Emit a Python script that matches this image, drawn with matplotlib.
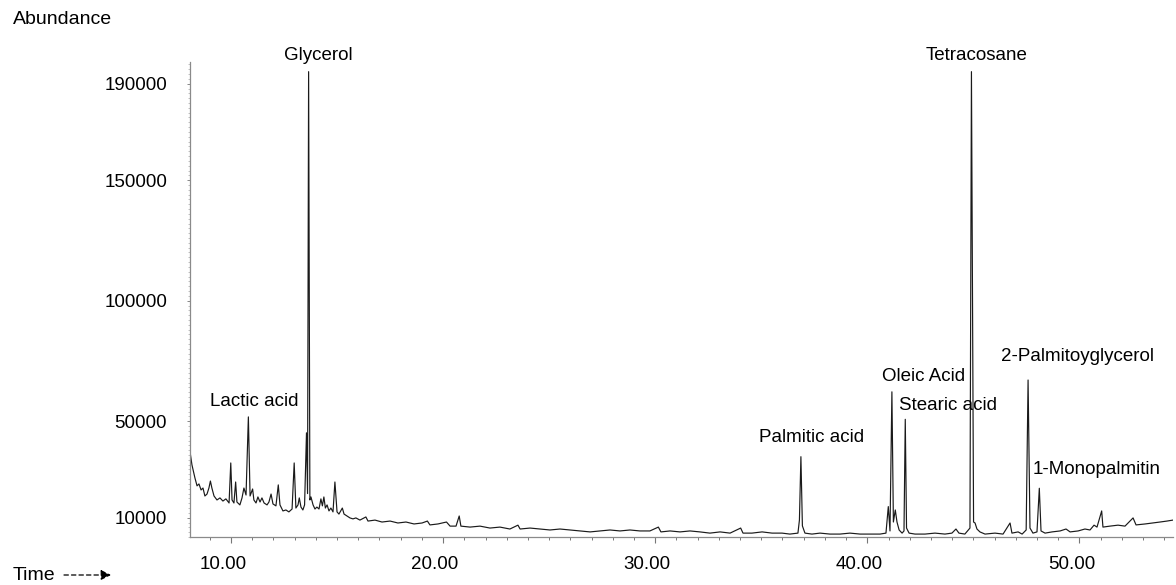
import matplotlib
matplotlib.use('Agg')
import matplotlib.pyplot as plt
from matplotlib.ticker import FixedLocator, MultipleLocator
from matplotlib.transforms import ScaledTranslation

plt.rcParams['font.family'] = ['Liberation Sans', 'DejaVu Sans']

# retention time (min) and abundance
time = [8.07, 8.16, 8.30, 8.40, 8.49, 8.59, 8.68, 8.77, 8.87, 8.96,
        9.03, 9.10, 9.20, 9.34, 9.48, 9.62, 9.76, 9.91, 9.99, 10.05,
        10.14, 10.22, 10.28, 10.42, 10.52, 10.61, 10.71, 10.82, 10.90, 11.02,
        11.08, 11.18, 11.27, 11.37, 11.46, 11.56, 11.70, 11.79, 11.89, 11.98,
        12.12, 12.23, 12.31, 12.45, 12.59, 12.73, 12.88, 12.98, 13.06, 13.16,
        13.22, 13.30, 13.39, 13.47, 13.56, 13.61, 13.66, 13.72, 13.77, 13.87,
        13.96, 14.05, 14.15, 14.24, 14.31, 14.38, 14.45, 14.53, 14.62, 14.71,
        14.81, 14.90, 15.00, 15.09, 15.25, 15.33, 15.47, 15.61, 15.75, 15.89,
        16.08, 16.36, 16.46, 16.79, 17.12, 17.50, 17.87, 18.25, 18.63, 19.01,
        19.26, 19.38, 19.76, 20.16, 20.33, 20.61, 20.76, 20.84, 21.27, 21.74,
        22.21, 22.68, 23.15, 23.53, 23.63, 24.10, 24.57, 25.04, 25.51, 25.98,
        26.45, 26.93, 27.40, 27.87, 28.34, 28.81, 29.28, 29.75, 30.15, 30.27,
        30.70, 31.17, 31.64, 32.11, 32.58, 33.06, 33.53, 34.03, 34.14, 34.56,
        35.04, 35.51, 35.98, 36.35, 36.73, 36.80, 36.87, 36.94, 37.06, 37.39,
        37.77, 38.24, 38.71, 39.18, 39.66, 40.13, 40.60, 40.88, 40.99, 41.07,
        41.16, 41.23, 41.32, 41.40, 41.50, 41.64, 41.73, 41.79, 41.85, 41.97,
        42.25, 42.72, 43.19, 43.66, 43.99, 44.18, 44.32, 44.60, 44.84, 44.91,
        45.01, 45.08, 45.17, 45.31, 45.55, 46.02, 46.40, 46.73, 46.82, 47.11,
        47.30, 47.49, 47.58, 47.67, 47.81, 48.00, 48.11, 48.19, 48.38, 48.71,
        49.09, 49.37, 49.56, 49.94, 50.26, 50.50, 50.69, 50.83, 51.05, 51.11,
        51.44, 51.82, 52.15, 52.53, 52.67, 53.10, 53.47, 53.80, 54.13, 54.41]
abundance = [37300, 31900, 26500, 23200, 24000, 21500, 22300, 19000, 19800, 22300,
             25200, 22300, 19000, 17350, 18200, 16900, 17800, 16100, 32700, 17350,
             16100, 24800, 16500, 15300, 18200, 22300, 19400, 51800, 19000, 21900,
             17350, 16100, 18600, 16500, 18200, 16100, 15300, 16500, 19800, 15700,
             14900, 23600, 15300, 12800, 13200, 12400, 13600, 32700, 14000, 15300,
             18200, 14400, 13200, 15300, 45200, 20000, 195000, 17350, 18600, 15300,
             13600, 14400, 13600, 17800, 14900, 18600, 14000, 15300, 12800, 14000,
             12400, 24800, 12400, 11500, 14000, 11500, 10700, 9900, 9500, 9900,
             9000, 10300, 8600, 9000, 8200, 8600, 7800, 8200, 7400, 7800,
             8600, 7000, 7400, 8200, 6500, 6500, 10700, 6500, 6100, 6500,
             5700, 6100, 5300, 6900, 5300, 5700, 5300, 4900, 5300, 4900,
             4500, 4100, 4500, 4900, 4500, 4900, 4500, 4500, 6100, 4100,
             4500, 4100, 4500, 4100, 3600, 4100, 3600, 5700, 3600, 3600,
             4100, 3600, 3600, 3200, 3600, 9000, 35300, 6600, 3600, 3200,
             3600, 3200, 3200, 3600, 3200, 3200, 3200, 3600, 14600, 4500,
             62200, 8200, 13200, 8200, 4900, 3600, 4500, 50800, 5700, 3600,
             3200, 3200, 3600, 3200, 3600, 5300, 3600, 3200, 5700, 195000,
             8200, 7800, 5300, 4100, 3200, 3600, 3200, 7800, 3600, 4100,
             3200, 4900, 67100, 5700, 3600, 4100, 22200, 4500, 3600, 4100,
             4500, 5300, 4100, 4500, 5300, 4900, 6900, 6100, 12800, 6100,
             6500, 6900, 6500, 9900, 7000, 7400, 7800, 8200, 8600, 9000]

peak_names = ['Glycerol', 'Tetracosane', 'Lactic acid', 'Oleic Acid', 'Stearic acid',
              'Palmitic acid', '2-Palmitoyglycerol', '1-Monopalmitin']
label_time = [14.10, 45.17, 11.08, 42.63, 43.81, 37.37, 49.93, 50.83]
label_abund = [201600, 201600, 58000, 68400, 56400, 43100, 76700, 29800]

y_ticks = [10000, 50000, 100000, 150000, 190000]
x_ticks = [10, 20, 30, 40, 50]
x_tick_labels = ['10.00', '20.00', '30.00', '40.00', '50.00']

fig = plt.figure(figsize=(11.76, 5.85), dpi=100)
ax = fig.add_axes([0.1616, 0.0821, 0.8358, 0.8119])

ax.plot(time, abundance, color='#1a1a1a', lw=0.85)

ax.set_xlim(8.07, 54.41)
ax.set_ylim(2000, 199000)

for side in ['top', 'right']:
    ax.spines[side].set_visible(False)
for side in ['left', 'bottom']:
    ax.spines[side].set_color('#8a8a8a')
    ax.spines[side].set_linewidth(0.9)

ax.xaxis.set_major_locator(FixedLocator(x_ticks))
ax.set_xticklabels(x_tick_labels)
ax.xaxis.set_minor_locator(MultipleLocator(1))
ax.yaxis.set_major_locator(FixedLocator(y_ticks))
ax.set_yticklabels([str(v) for v in y_ticks])
ax.yaxis.set_minor_locator(MultipleLocator(2000))

ax.tick_params(axis='x', which='major', length=4.5, width=0.8, color='#777777',
               pad=9, labelsize=13.5)
ax.tick_params(axis='x', which='minor', length=2.2, width=0.7, color='#777777')
ax.tick_params(axis='y', which='major', length=2.5, width=0.7, color='#888888',
               pad=14, labelsize=13.5)
ax.tick_params(axis='y', which='minor', length=1.2, width=0.5, color='#aaaaaa')

# the x labels in the original sit a little left of their ticks
shift = ScaledTranslation(-8 / 100, 0, fig.dpi_scale_trans)
for lab in ax.get_xticklabels():
    lab.set_transform(lab.get_transform() + shift)

for name, tx, ty in zip(peak_names, label_time, label_abund):
    ax.text(tx, ty, name, ha='center', va='center', fontsize=13.5, clip_on=False)

fig.text(13 / 1176, 1 - 19 / 585, 'Abundance', ha='left', va='center', fontsize=14)
fig.text(13 / 1176, 1 - 576 / 585, 'Time', ha='left', va='center', fontsize=14)
fig.add_artist(matplotlib.patches.FancyArrowPatch(
    (64 / 1176, 1 - 575 / 585), (111 / 1176, 1 - 575 / 585),
    transform=fig.transFigure, arrowstyle='-|>', mutation_scale=15,
    linestyle=(0, (3.5, 2.5)), lw=0.9, color='black', shrinkA=0, shrinkB=0))

fig.savefig('out.png', dpi=100)
